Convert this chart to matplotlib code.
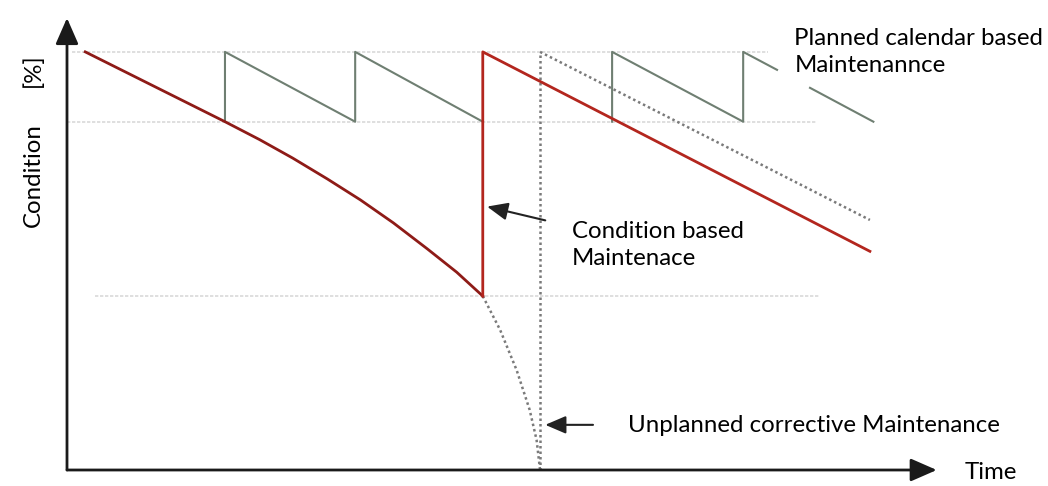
import numpy as np
import matplotlib
matplotlib.use('Agg')
import matplotlib.pyplot as plt

# Data (time 0..100, condition in % of the new state)
deg_t = [2.1, 10.1, 18.2, 22.2, 26.0, 30.0, 33.8, 37.6, 41.5, 44.9, 47.9]
deg_c = [100, 91.7, 83.3, 79.0, 74.6, 69.6, 64.6, 59.1, 52.9, 47.3, 41.6]

cbm_t = [47.9, 47.9, 92.5]
cbm_c = [41.6, 100, 52.3]

fail_t = [47.9, 49.9, 51.8, 53.3, 54.1, 54.5]
fail_c = [41.6, 33.5, 23.9, 14.4, 7.2, 0]

fail_time = 54.5
after_t = [54.5, 92.5]
after_c = [100, 59.8]

saw_t = [18.2, 18.2, 33.2, 33.2, 47.9, np.nan, 62.8, 62.8, 77.9, 77.9, 81.8,
         np.nan, 85.6, 92.9]
saw_c = [83.3, 100, 83.3, 100, 83.3, np.nan, 83.3, 100, 83.3, 100, 95.7,
         np.nan, 91.4, 83.3]

grid_c = [100, 83.3, 41.6]
grid_start = [0.6, 0.0, 3.2]
grid_end = [80.8, 86.4, 86.8]

plt.rcParams['font.family'] = ['Lato', 'DejaVu Sans']

fig = plt.figure(figsize=(10.48, 4.86), dpi=100)
ax = fig.add_axes([67 / 1048, 16 / 486, 868 / 1048, 452 / 486])
ax.set_xlim(0, 100)
ax.set_ylim(0, 108.1)
ax.axis('off')

# light reference lines
for c, a, b in zip(grid_c, grid_start, grid_end):
    ax.plot([a, b], [c, c], color='#d9d9d9', lw=1.2, ls=(0, (2, 1)), zorder=1)

red = '#b3261e'
ax.plot(saw_t, saw_c, color='#6f7f72', lw=1.5, zorder=2)
ax.plot(deg_t, deg_c, color='#8e1b17', lw=2.0, zorder=3,
        solid_joinstyle='round')
ax.plot(cbm_t, cbm_c, color=red, lw=2.0, zorder=3)
ax.plot(fail_t, fail_c, color='#7a7a7a', lw=1.8, ls=(0, (1, 1.2)), zorder=2)
ax.plot([fail_time, fail_time], [0, 100], color='#7a7a7a', lw=1.8,
        ls=(0, (1, 1.2)), zorder=2)
ax.plot(after_t, after_c, color='#7a7a7a', lw=1.8, ls=(0, (1, 1.2)), zorder=2)

# axes arrows
arr = dict(arrowstyle='-|>,head_length=0.8,head_width=0.35', color='#1a1a1a',
           lw=2.0, shrinkA=0, shrinkB=0, mutation_scale=20)
ax.annotate('', xy=(0, 108.1), xytext=(0, 0), arrowprops=arr,
            annotation_clip=False)
ax.annotate('', xy=(100.2, 0), xytext=(0, 0), arrowprops=arr,
            annotation_clip=False)

# callout arrows
small = dict(arrowstyle='-|>,head_length=0.7,head_width=0.3', color='#222222',
             lw=1.5, shrinkA=0, shrinkB=0, mutation_scale=18)
ax.annotate('', xy=(48.4, 63.0), xytext=(55.1, 59.7), arrowprops=small)
ax.annotate('', xy=(55.1, 10.8), xytext=(60.6, 10.8), arrowprops=small)

# labels
fs = 17.3
ax.text(83.8, 105.8, 'Planned calendar based\nMaintenannce', fontsize=fs,
        va='top', ha='left', linespacing=1.36)
ax.text(58.2, 59.6, 'Condition based\nMaintenace', fontsize=fs,
        va='top', ha='left', linespacing=1.36)
ax.text(64.6, 10.6, 'Unplanned corrective Maintenance', fontsize=fs,
        va='center', ha='left')
ax.text(103.4, -0.5, 'Time', fontsize=fs, va='center', ha='left')
ax.text(-3.9, 70.6, 'Condition', fontsize=fs, rotation=90,
        va='center', ha='center')
ax.text(-3.9, 95.7, '[%]', fontsize=fs, rotation=90,
        va='center', ha='center')

plt.savefig('out.png', dpi=100)
